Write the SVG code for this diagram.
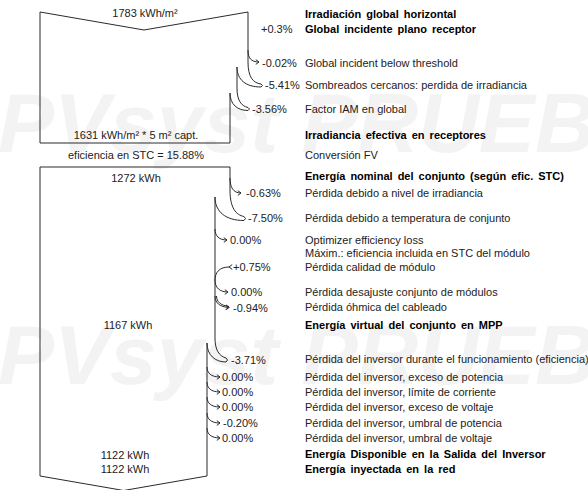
<svg xmlns="http://www.w3.org/2000/svg" width="588" height="490" viewBox="0 0 588 490">
<style>
text{font-family:"Liberation Sans",Arial,sans-serif;font-size:11px;fill:#222}
.b{font-weight:bold;fill:#000;word-spacing:2px}
.m{text-anchor:middle}
.wm{font-size:84px;font-weight:bold;font-style:italic;fill:#f3f3f3}
.ln{fill:none;stroke:#2a2a2a;stroke-width:1}
</style>
<defs>
<marker id="ah" markerWidth="6" markerHeight="6" refX="4" refY="3" orient="auto" markerUnits="userSpaceOnUse">
<path d="M0.8,0.6 L4,3 L0.8,5.4" fill="none" stroke="#2a2a2a" stroke-width="1"/>
</marker>
</defs>
<rect width="588" height="490" fill="#fff"/>
<g id="watermark">
<text class="wm" x="-2" y="152">PVsyst PRUEBA</text>
<text class="wm" x="-2" y="384">PVsyst PRUEBA</text>
</g>
<g id="box-irradiance">
<path class="ln" d="M230,93 L230,143 L40,143 L40,12 L144,30 L248,12 L248,62 M237,67 L237,88"/>
<text class="m" x="145" y="17">1783 kWh/m²</text>
<text class="m" x="136" y="139">1631 kWh/m² * 5 m² capt.</text>
</g>
<g id="conversion">
<text class="m" x="136" y="159">eficiencia en STC = 15.88%</text>
</g>
<g id="box-energy">
<path class="ln" d="M230,190 L230,167 L40,167 L40,476 L123.7,490.5 L207,476 L207,343 M215,197 L215,338"/>
<text class="m" x="136" y="182">1272 kWh</text>
<text class="m" x="128" y="329">1167 kWh</text>
<text class="m" x="125" y="459">1122 kWh</text>
<text class="m" x="125" y="473">1122 kWh</text>
</g>
<g id="connectors">
<path class="ln" d="M248,50 C248,58 251,62 259,62" marker-end="url(#ah)"/>
<path class="ln" d="M248,62 C248,77 253,83 261,84 Q264,85.5 261,87 C246,87 237,80 237,67"/>
<path class="ln" d="M237,88 C237,100 241,106 248,107.5 Q251,109 248,110.5 C237,110.5 230,104 230,93"/>
<path class="ln" d="M230,178 C230,187 233,193 241,193" marker-end="url(#ah)"/>
<path class="ln" d="M230,190 C230,208 236,215 244,216.5 Q247,218.5 244,220.5 C226,220.5 215,212 215,197"/>
<path class="ln" d="M215,229 C215,236 219,240 227,240" marker-end="url(#ah)"/>
<path class="ln" d="M229,267 C220,267 215,272 215,280" marker-start="url(#ah)"/>
<path class="ln" d="M215,280 C215,288 220,292 228,292" marker-end="url(#ah)"/>
<path class="ln" d="M215,296 C215,303 220,307 229,307.5" marker-end="url(#ah)"/>
<path class="ln" d="M216.5,296 C216.5,302 221,305.5 229,306.5"/>
<path class="ln" d="M215,338 C215,350 219,356 226,358 Q229,360 226,362 C215,362 207,355 207,343"/>
<path class="ln" d="M207,367 C207,373 211,377 220,377" marker-end="url(#ah)"/>
<path class="ln" d="M207,382 C207,388 211,392 220,392" marker-end="url(#ah)"/>
<path class="ln" d="M207,397 C207,403 211,407 220,407" marker-end="url(#ah)"/>
<path class="ln" d="M207,413 C207,419 211,423 220,423" marker-end="url(#ah)"/>
<path class="ln" d="M207,428 C207,434 211,438 220,438" marker-end="url(#ah)"/>
</g>
<g id="values">
<text x="261" y="33">+0.3%</text>
<text x="262" y="67">-0.02%</text>
<text x="265" y="89">-5.41%</text>
<text x="252" y="113">-3.56%</text>
<text x="246" y="197">-0.63%</text>
<text x="248" y="222">-7.50%</text>
<text x="230" y="244">0.00%</text>
<text x="233" y="271">+0.75%</text>
<text x="231" y="296">0.00%</text>
<text x="233" y="312">-0.94%</text>
<text x="231" y="364">-3.71%</text>
<text x="222" y="381">0.00%</text>
<text x="222" y="396">0.00%</text>
<text x="222" y="411">0.00%</text>
<text x="223" y="427">-0.20%</text>
<text x="222" y="442">0.00%</text>
</g>
<g id="labels">
<text class="b" x="305" y="18">Irradiación global horizontal</text>
<text class="b" x="305" y="33">Global incidente plano receptor</text>
<text x="305" y="67">Global incident below threshold</text>
<text x="305" y="89">Sombreados cercanos: perdida de irradiancia</text>
<text x="305" y="113">Factor IAM en global</text>
<text class="b" x="305" y="139">Irradiancia efectiva en receptores</text>
<text x="305" y="159">Conversión FV</text>
<text class="b" x="305" y="180">Energía nominal del conjunto (según efic. STC)</text>
<text x="305" y="197">Pérdida debido a nivel de irradiancia</text>
<text x="305" y="222">Pérdida debido a temperatura de conjunto</text>
<text x="305" y="244">Optimizer efficiency loss</text>
<text x="305" y="257">Máxim.: eficiencia incluida en STC del módulo</text>
<text x="305" y="271">Pérdida calidad de módulo</text>
<text x="305" y="296">Pérdida desajuste conjunto de módulos</text>
<text x="305" y="311">Pérdida óhmica del cableado</text>
<text class="b" x="305" y="329">Energía virtual del conjunto en MPP</text>
<text x="305" y="363">Pérdida del inversor durante el funcionamiento (eficiencia)</text>
<text x="305" y="381">Pérdida del inversor, exceso de potencia</text>
<text x="305" y="396">Pérdida del inversor, límite de corriente</text>
<text x="305" y="411">Pérdida del inversor, exceso de voltaje</text>
<text x="305" y="427">Pérdida del inversor, umbral de potencia</text>
<text x="305" y="442">Pérdida del inversor, umbral de voltaje</text>
<text class="b" x="305" y="458">Energía Disponible en la Salida del Inversor</text>
<text class="b" x="305" y="473">Energía inyectada en la red</text>
</g>
</svg>
